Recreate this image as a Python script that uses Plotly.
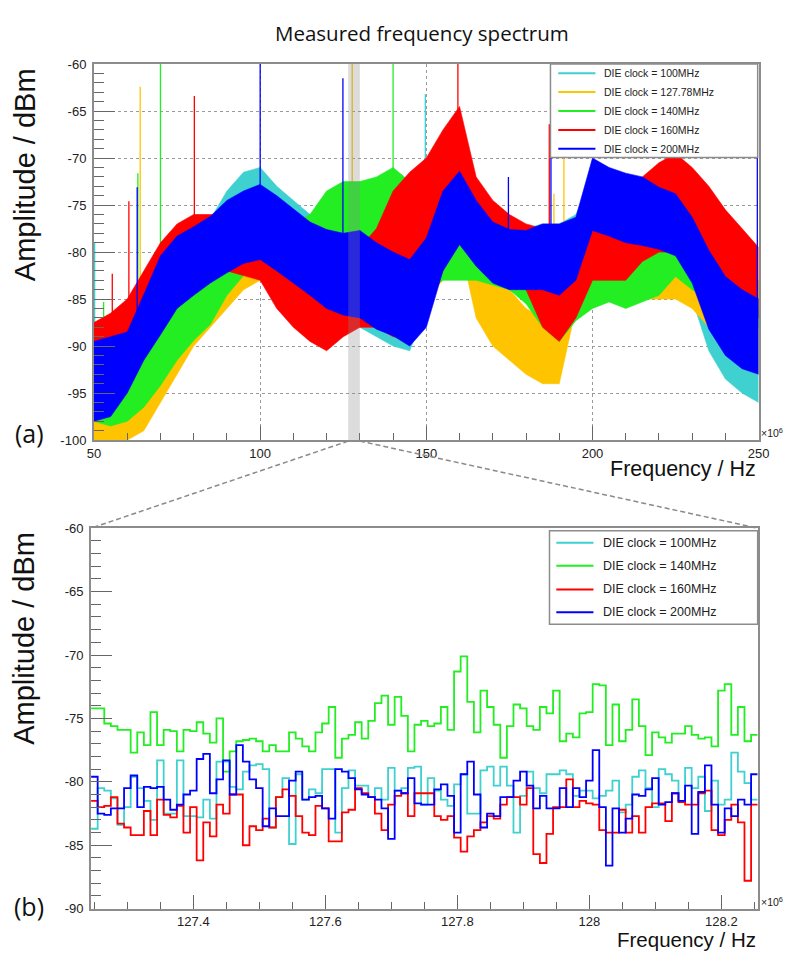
import plotly.graph_objects as go

W, H = 798, 958


def px(x):
    return x / W


def py(y):
    return 1 - y / H


# ---------------- panel (a): measured spectrum, 50-250 MHz ----------------
# noise band of every trace, every 5 MHz (dBm)
freq_mhz = [50, 55, 60, 65, 70, 75, 80, 85, 90, 95, 100, 105, 110, 115, 120, 125, 130, 135, 140, 145,
            150, 155, 160, 165, 170, 175, 180, 185, 190, 195, 200, 205, 210, 215, 220, 225, 230, 235,
            240, 245, 250]

upper_100 = [-88, -89, -88, -86, -83, -80, -78.5, -76.5, -73.5, -71.5, -71, -73, -74.5, -76, -77.5, -78,
             -78, -79, -80, -80.5, -79, -76, -73.5, -76, -77, -77.5, -77.5, -77, -77, -76, -72, -72.5,
             -73, -73.5, -74, -75, -77, -80, -83, -85, -86]
lower_100 = [-100, -100, -99, -96, -93, -90, -87, -85, -83, -81.5, -80.5, -82, -83.5, -84.5, -86, -87, -88,
             -89, -90, -90.5, -86, -82, -80, -81.5, -83, -84, -84, -84.5, -85, -84, -79, -79.5, -80, -80.5,
             -81, -82, -85, -90.5, -93.5, -95, -96]

upper_127 = [-93, -94, -93, -91, -88, -85, -83, -81, -79, -77.5, -76.5, -76.5, -77, -77, -76.5, -74, -72.5,
             -76, -77, -78, -79, -78, -77.5, -79.5, -82, -84, -86, -87, -86, -81, -79, -79, -78.5, -78, -77,
             -77, -78, -80, -82, -84, -85]
lower_127 = [-100, -100, -100, -99, -96, -93, -90, -88, -86, -84, -83, -84, -85, -85.5, -86, -86, -86, -86,
             -86, -86, -85, -83, -79, -87, -90, -91.5, -93, -94, -94, -86, -84, -85, -85, -85, -85, -85, -86,
             -88, -90, -92, -93]

upper_140 = [-92, -93, -92, -90, -87, -84.5, -82.5, -81, -79, -77.5, -76.5, -76.5, -77, -76, -73.5, -72.5,
             -72.5, -72, -71, -72.5, -73, -73, -73.5, -76, -79, -80, -80.5, -80.5, -80, -79, -78.5, -78.5,
             -78, -77, -76.5, -77, -78, -79.5, -81, -82, -83]
lower_140 = [-98, -98.5, -98, -96.5, -94.2, -91.5, -89.4, -87.7, -84.6, -82.5, -81.5, -82, -83, -84, -84, -84,
             -84.5, -85, -85, -85, -84, -83, -83, -83, -83.5, -84, -85.5, -88, -89.5, -87.3, -86, -85.3, -86,
             -85.3, -84.6, -82.6, -84, -85, -86, -87, -88]

upper_160 = [-87.5, -86.5, -85, -82, -79, -77, -76, -76, -76, -76, -76.5, -78, -79, -80, -80, -80, -79.5,
             -77.5, -73.5, -71.5, -70, -67, -64.5, -72, -74.5, -76, -77, -77.5, -78, -77, -76, -76, -75, -72,
             -70.5, -69.5, -71, -73, -75.5, -77.5, -79.5]
lower_160 = [-91, -91, -90, -88, -86, -85, -84, -83, -82, -82.5, -83, -86, -88, -89.5, -90.5, -89, -88, -88,
             -89, -89, -86, -82, -78, -80.5, -82, -82.5, -84, -88, -89.5, -87, -83, -83, -83, -81, -80, -80,
             -81, -83, -85, -86, -87]

upper_200 = [-89.5, -89, -88.5, -84.5, -80.4, -78.3, -77.3, -76.2, -74.5, -73.5, -72.8, -74, -75.4, -76.8,
             -77.6, -78, -77.7, -79, -80, -80.8, -78.5, -73.5, -71.4, -74.5, -76.8, -77.6, -77.7, -77, -77,
             -76.3, -70, -71, -71.6, -72, -73.1, -73.8, -76.3, -79.8, -82.6, -84, -85]
lower_200 = [-98, -97.5, -95, -91.5, -88.8, -86, -84.6, -83.3, -82.2, -81.2, -80.8, -82, -83.3, -84.6, -86,
             -86.7, -87, -88.2, -88.9, -90, -88, -82, -79.2, -81.5, -83.3, -84, -84, -84, -84.6, -83, -77.7,
             -78.3, -79, -79.3, -79.7, -80.4, -83.3, -88.2, -91, -92.4, -93]

# narrow spurs: frequency, foot and top of each line (dBm)
spur_f_100 = [50.2, 149.7]
spur_lo_100 = [-88, -78]
spur_hi_100 = [-79, -63.2]
spur_f_127 = [63.9, 127.7, 188.4, 191.4]
spur_lo_127 = [-90, -75, -86, -88]
spur_hi_127 = [-62.4, -60, -73.8, -70]
spur_f_140 = [52.9, 63.2, 70.0, 140.0]
spur_lo_140 = [-92, -90, -88, -72]
spur_hi_140 = [-85.3, -71.6, -60, -60]
spur_f_160 = [55.5, 60.5, 80.2, 159.5, 187.0]
spur_lo_160 = [-87, -86, -77, -66, -78]
spur_hi_160 = [-82.3, -74.6, -63.4, -60, -66.4]
spur_f_200 = [63.0, 100.0, 124.9, 174.7, 187.5, 249.6]
spur_lo_200 = [-90, -74, -80, -78, -78, -85]
spur_hi_200 = [-73.1, -60, -61.5, -72, -66.4, -70]

names_a = ["DIE clock = 100MHz", "DIE clock = 127.78MHz", "DIE clock = 140MHz",
           "DIE clock = 160MHz", "DIE clock = 200MHz"]
colors_a = ["#3fd0d0", "#ffc400", "#22ee22", "#ff0000", "#0000ff"]

# ---------------- panel (b): zoom 127.25-128.25 MHz, 10 kHz bins ----------------
bin_centres = [round(127.25 + 0.01 * i, 2) for i in range(101)]

zoom_100 = [-83.7, -80.5, -80.7, -81.3, -83.4, -82.0, -79.6, -80.5, -81.5, -83.0, -78.3, -82.5, -82.5, -78.3,
            -82.7, -82.7, -82.8, -81.4, -82.9, -78.4, -78.4, -80.4, -80.6, -79.2, -78.7,
            -78.6, -79.0, -83.6, -81.2, -79.7, -84.9, -79.4, -81.4, -80.6, -80.9, -79.0, -79.0, -84.0,
            -80.5, -79.1, -80.3, -80.3, -81.2, -80.5, -81.4, -78.9, -80.7, -80.5, -78.9, -78.8,
            -81.8, -79.7, -80.7, -81.4, -81.9, -80.2, -79.4, -82.5, -82.5, -79.1, -78.8, -80.3, -78.8,
            -80.3, -84.0, -81.1, -79.2, -80.5, -80.9, -79.4, -79.4, -79.1, -79.4, -81.1, -80.7,
            -80.7, -81.3, -81.1, -80.7, -79.9, -82.4, -81.8, -79.6, -79.1, -80.5, -82.0, -79.0, -79.4,
            -79.9, -81.5, -78.9, -80.5, -79.6, -82.3, -79.9, -81.8, -81.4, -77.7, -79.2, -80.1, -81.4]
zoom_140 = [-74.2, -74.2, -75.4, -75.6, -75.9, -75.9, -77.7, -76.1, -77.1, -74.5, -77.1, -75.9, -76.0, -77.6,
            -75.9, -76.0, -75.3, -76.2, -76.9, -75.0, -79.2, -77.6, -76.8, -76.7, -76.6,
            -76.8, -77.6, -77.1, -77.6, -77.6, -76.1, -76.6, -77.2, -77.6, -76.1, -75.4, -74.1, -78.1,
            -76.6, -76.3, -75.3, -76.6, -75.2, -73.8, -73.2, -75.5, -73.3, -74.8, -77.6, -75.5,
            -75.2, -75.6, -75.4, -74.1, -75.9, -71.3, -70.1, -73.7, -76.1, -72.8, -74.1, -75.5, -78.1,
            -75.6, -73.9, -74.2, -75.6, -75.9, -74.1, -74.6, -72.8, -76.8, -76.2, -76.5, -74.6,
            -74.5, -72.3, -72.4, -77.1, -73.9, -76.8, -75.9, -73.5, -75.6, -77.9, -76.1, -76.5, -76.9,
            -76.2, -76.2, -75.6, -76.3, -76.6, -76.5, -77.2, -72.8, -72.3, -76.3, -74.1, -76.8, -76.3]
zoom_160 = [-81.5, -82.0, -81.9, -81.2, -83.3, -83.6, -84.2, -84.2, -82.3, -84.2, -81.4, -82.6, -82.8, -81.9,
            -84.0, -82.0, -86.2, -83.2, -84.3, -81.8, -82.5, -81.0, -81.0, -85.0, -83.5,
            -83.8, -82.9, -83.6, -81.2, -80.6, -81.1, -82.7, -84.0, -84.2, -81.9, -82.1, -84.7, -84.7,
            -82.4, -82.2, -80.5, -80.9, -81.2, -82.5, -83.8, -81.8, -81.1, -80.9, -82.7, -80.9,
            -80.9, -80.9, -82.7, -83.0, -82.7, -84.4, -85.5, -84.3, -83.8, -83.2, -82.7, -82.9, -81.8,
            -81.2, -81.2, -81.8, -80.5, -85.7, -86.4, -84.1, -82.0, -82.0, -79.8, -82.0, -81.5,
            -81.7, -81.8, -83.8, -84.0, -84.0, -82.2, -84.0, -82.7, -84.0, -82.0, -81.7, -81.7, -83.1,
            -80.9, -81.6, -81.8, -81.8, -80.9, -80.7, -83.8, -84.2, -83.0, -81.8, -83.2, -87.8, -81.8]
zoom_200 = [-79.6, -82.5, -82.6, -82.1, -82.1, -80.5, -79.5, -82.0, -80.4, -80.5, -80.4, -81.4, -82.2, -81.8,
            -81.0, -80.7, -78.2, -77.8, -80.9, -79.8, -78.3, -81.0, -77.1, -78.4, -79.8,
            -80.5, -83.5, -82.1, -82.7, -82.7, -79.9, -79.2, -81.4, -81.2, -81.1, -82.1, -82.9, -79.0,
            -79.2, -79.7, -80.6, -81.0, -81.2, -81.4, -82.1, -84.5, -80.7, -80.9, -79.7, -81.7,
            -81.8, -81.8, -80.6, -80.2, -81.1, -84.0, -79.4, -78.4, -81.0, -83.6, -82.5, -82.7, -81.2,
            -81.2, -79.9, -79.2, -80.3, -82.1, -81.1, -82.1, -82.1, -80.5, -82.0, -80.5, -81.2,
            -79.9, -77.5, -82.0, -86.6, -82.1, -84.0, -82.9, -81.0, -81.1, -80.6, -79.7, -81.8, -81.6,
            -80.9, -81.5, -80.3, -84.1, -80.8, -78.7, -81.8, -84.0, -82.1, -82.7, -81.4, -81.8, -79.4]

names_b = ["DIE clock = 100MHz", "DIE clock = 140MHz", "DIE clock = 160MHz", "DIE clock = 200MHz"]
colors_b = ["#3fd0d0", "#22ee22", "#ff0000", "#0000ff"]

highlight = [126.5, 130.0]   # grey band marking the zoomed region in (a)

# ---------------------------------------------------------------------------
fig = go.Figure()

bands = [(upper_100, lower_100), (upper_127, lower_127), (upper_140, lower_140),
         (upper_160, lower_160), (upper_200, lower_200)]
spurs = [(spur_f_100, spur_lo_100, spur_hi_100), (spur_f_127, spur_lo_127, spur_hi_127),
         (spur_f_140, spur_lo_140, spur_hi_140), (spur_f_160, spur_lo_160, spur_hi_160),
         (spur_f_200, spur_lo_200, spur_hi_200)]

for (up, lo), (sf, slo, shi), name, col in zip(bands, spurs, names_a, colors_a):
    fig.add_trace(go.Scatter(x=freq_mhz, y=lo, mode="lines", line=dict(color=col, width=0.6),
                             xaxis="x", yaxis="y", hoverinfo="skip", showlegend=False))
    fig.add_trace(go.Scatter(x=freq_mhz, y=up, mode="lines", line=dict(color=col, width=0.6),
                             fill="tonexty", fillcolor=col, name=name, xaxis="x", yaxis="y",
                             showlegend=False))
    xs, ys = [], []
    for f, a, b in zip(sf, slo, shi):
        xs += [f, f, None]
        ys += [a, b, None]
    fig.add_trace(go.Scatter(x=xs, y=ys, mode="lines", line=dict(color=col, width=1.3),
                             xaxis="x", yaxis="y", hoverinfo="skip", showlegend=False))

edges = [c - 0.005 for c in bin_centres] + [bin_centres[-1] + 0.005]
for vals, name, col in zip([zoom_100, zoom_140, zoom_160, zoom_200], names_b, colors_b):
    fig.add_trace(go.Scatter(x=edges, y=vals + [vals[-1]], mode="lines", line_shape="hv",
                             line=dict(color=col, width=1.8), name=name,
                             xaxis="x2", yaxis="y2", showlegend=False))

tick_font = dict(family="Liberation Sans, Arial, sans-serif", size=13, color="#222")
frame = dict(showline=True, linecolor="#8c8c8c", linewidth=2, mirror=True, zeroline=False,
             ticks="inside", tickcolor="#666", tickwidth=1, tickfont=tick_font)

fig.update_layout(
    width=W, height=H, autosize=False, margin=dict(l=0, r=0, t=0, b=0),
    paper_bgcolor="white", plot_bgcolor="white", showlegend=False,
    xaxis=dict(domain=[px(89), px(769)], anchor="y", range=[50, 250], tick0=50, dtick=50, ticklen=14,
               minor=dict(tick0=50, dtick=10, ticklen=7, ticks="inside", tickcolor="#666", showgrid=False),
               showgrid=True, gridcolor="#9a9a9a", griddash="dot", gridwidth=1, **frame),
    yaxis=dict(domain=[py(440), py(58)], anchor="x", range=[-100, -60],
               tickvals=[-100, -95, -90, -85, -80, -75, -70, -65, -60],
               ticktext=["-100", "-95", "-90", "-85", "-80", "-75", "-70", "-65", "-60"],
               ticklen=21, ticklabelstandoff=3,
               minor=dict(tick0=-100, dtick=1, ticklen=10, ticks="inside", tickcolor="#666", showgrid=False),
               showgrid=True, gridcolor="#9a9a9a", griddash="dot", gridwidth=1, **frame),
    xaxis2=dict(domain=[px(86), px(768)], anchor="y2", range=[127.245, 128.255], tick0=127.4, dtick=0.2,
                ticklen=14,
                minor=dict(tick0=127.25, dtick=0.05, ticklen=7, ticks="inside", tickcolor="#666"),
                showgrid=False, **frame),
    yaxis2=dict(domain=[py(916), py(529.5)], anchor="x2", range=[-90, -60],
                tickvals=[-90, -85, -80, -75, -70, -65, -60],
                ticktext=["-90", "-85", "-80", "-75", "-70", "-65", "-60"],
                ticklen=21, ticklabelstandoff=3,
                minor=dict(tick0=-90, dtick=1, ticklen=10, ticks="inside", tickcolor="#666"),
                showgrid=False, **frame),
)

# grey highlight of the zoomed region, drawn over the spectra
fig.add_shape(type="rect", xref="x", yref="y domain", x0=highlight[0], x1=highlight[1], y0=0, y1=1,
              fillcolor="rgba(140,140,140,0.3)", line_width=0, layer="above")


# dashed guide lines from the band to the zoom panel
def top_x_px(f):
    return 89 + (f - 50) / 200 * (769 - 89)


for f, xb in [(highlight[0], 86), (highlight[1], 768)]:
    fig.add_shape(type="line", xref="paper", yref="paper", x0=px(top_x_px(f)), y0=py(441),
                  x1=px(xb), y1=py(529.5), line=dict(color="#8a8a8a", width=1.5, dash="5px,3px"))


# legends drawn as boxed entries
def legend(names, colors, box, ys, x_line, x_text, size):
    fig.add_shape(type="rect", xref="paper", yref="paper", x0=px(box[0]), x1=px(box[2]),
                  y0=py(box[3]), y1=py(box[1]), fillcolor="white",
                  line=dict(color="#8c8c8c", width=1.5), layer="above")
    for name, col, y in zip(names, colors, ys):
        fig.add_shape(type="line", xref="paper", yref="paper", x0=px(x_line[0]), x1=px(x_line[1]),
                      y0=py(y), y1=py(y), line=dict(color=col, width=2), layer="above")
        fig.add_annotation(x=px(x_text), y=py(y), xref="paper", yref="paper", text=name,
                           showarrow=False, xanchor="left", yanchor="middle",
                           font=dict(family="Liberation Sans, Arial, sans-serif", size=size, color="#222"))


legend(names_a, colors_a, (556, 58, 768, 153), [67.3, 86.3, 105.7, 125, 144], (564, 602), 609, 10.5)
legend(names_b, colors_b, (555, 532, 768, 627), [544.3, 567.7, 591.7, 615], (562, 600), 608, 12.5)

fig.add_annotation(x=px(425), y=py(26), xref="paper", yref="paper", text="Measured frequency spectrum",
                   showarrow=False, xanchor="center", yanchor="middle",
                   font=dict(family="Open Sans, sans-serif", size=20.5, color="#111"))

for ytop, xt_y, fs in [(60, 469, 21.5), (531, 947, 20.5)]:
    fig.add_annotation(x=px(18), y=py(ytop), xref="paper", yref="paper", text="Amplitude / dBm",
                       textangle=-90, showarrow=False, xanchor="center", yanchor="top",
                       font=dict(family="Liberation Sans, Arial, sans-serif", size=29, color="#111"))
    fig.add_annotation(x=px(768), y=py(xt_y), xref="paper", yref="paper", text="Frequency / Hz",
                       showarrow=False, xanchor="right", yanchor="middle",
                       font=dict(family="Liberation Sans, Arial, sans-serif", size=fs, color="#111"))

for tag, y in [("(a)", 433), ("(b)", 913)]:
    fig.add_annotation(x=px(23), y=py(y), xref="paper", yref="paper", text=tag, showarrow=False,
                       xanchor="center", yanchor="middle",
                       font=dict(family="Open Sans, sans-serif", size=25, color="#111"))

for y in [432, 909]:
    fig.add_annotation(x=px(769), y=py(y), xref="paper", yref="paper", text="×10<sup>6</sup>",
                       showarrow=False, xanchor="left", yanchor="middle",
                       font=dict(family="Liberation Sans, Arial, sans-serif", size=10.5, color="#222"))

fig.write_html("out.html", config={"displayModeBar": False},
               post_script="document.body.style.margin='0';")
